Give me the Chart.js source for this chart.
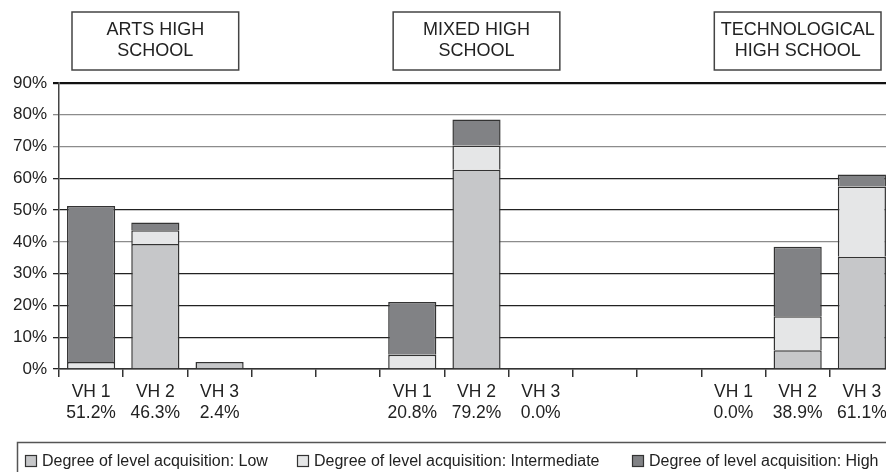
<!DOCTYPE html>
<html>
<head>
<meta charset="utf-8">
<script src="https://cdn.jsdelivr.net/npm/chart.js@4"></script>
<style>
  html, body { margin: 0; padding: 0; background: #fff; overflow: hidden; }
  #wrap { width: 900px; height: 472px; }
</style>
</head>
<body>
<div id="wrap"><canvas id="myChart" width="900" height="472"></canvas></div>
<script>
// Données
var schoolTitles = [['ARTS HIGH', 'SCHOOL'], ['MIXED HIGH', 'SCHOOL'], ['TECHNOLOGICAL', 'HIGH SCHOOL']];
var categories = ['VH 1', 'VH 2', 'VH 3', '', '', 'VH 1', 'VH 2', 'VH 3', '', '', 'VH 1', 'VH 2', 'VH 3'];
var shares = ['51.2%', '46.3%', '2.4%', '', '', '20.8%', '79.2%', '0.0%', '', '', '0.0%', '38.9%', '61.1%'];
var lowValues = [0, 39.3, 2.2, null, null, 0, 62.7, 0, null, null, 0, 5.9, 35.3];
var intermediateValues = [2.2, 4.4, 0, null, null, 4.5, 7.6, 0, null, null, 0, 10.7, 22.1];
var highValues = [49.1, 2.4, 0, null, null, 16.6, 8.2, 0, null, null, 0, 21.9, 3.8];
var yTicks = [0, 10, 20, 30, 40, 50, 60, 70, 80, 90];

var FONT = '"Liberation Sans", Arial, sans-serif';
var TEXT = '#222';

var labels = categories.map(function(c, i) { return c ? [c, shares[i]] : ''; });

function gridColor(v) {
  if (v === 90) return '#111';
  if (v === 80 || v === 70 || v === 40) return '#8c8c8c';
  return '#222';
}

/* plugin : cadres des titres + légende encadrée */
var decorPlugin = {
  id: 'decor',
  afterDraw: function(chart) {
    var ctx = chart.ctx;
    var x = chart.scales.x;
    var half = (x.getPixelForValue(1) - x.getPixelForValue(0)) / 2;
    ctx.save();
    ctx.font = '18px ' + FONT;
    ctx.fillStyle = TEXT;
    ctx.textAlign = 'center';
    ctx.textBaseline = 'middle';
    schoolTitles.forEach(function(t, g) {
      var xa = x.getPixelForValue(g * 5) - half + 13;
      var xb = x.getPixelForValue(g * 5 + 2) + half - 13;
      ctx.strokeStyle = '#444';
      ctx.lineWidth = 1.5;
      ctx.strokeRect(xa, 12, xb - xa, 58);
      ctx.fillText(t[0], (xa + xb) / 2, 30);
      ctx.fillText(t[1], (xa + xb) / 2, 51.5);
    });

    // légende
    ctx.strokeStyle = '#555';
    ctx.lineWidth = 1.5;
    ctx.strokeRect(17.5, 442.5, 900, 60);
    var itemX = [25, 297, 632];
    ctx.font = '16px ' + FONT;
    ctx.textAlign = 'left';
    chart.data.datasets.forEach(function(ds, i) {
      ctx.fillStyle = ds.backgroundColor;
      ctx.fillRect(itemX[i], 455, 12, 12);
      ctx.strokeStyle = '#333';
      ctx.lineWidth = 1.2;
      ctx.strokeRect(itemX[i] + 0.5, 455.5, 11, 11);
      ctx.fillStyle = TEXT;
      ctx.fillText(ds.label, itemX[i] + 17, 462);
    });
    ctx.restore();
  }
};

var ctx = document.getElementById('myChart').getContext('2d');
var chart = new Chart(ctx, {
  type: 'bar',
  data: {
    labels: labels,
    datasets: [
      {
        label: 'Degree of level acquisition: Low',
        data: lowValues,
        backgroundColor: '#c6c7c9',
        borderColor: '#333',
        borderWidth: 1.5
      },
      {
        label: 'Degree of level acquisition: Intermediate',
        data: intermediateValues,
        backgroundColor: '#e5e6e7',
        borderColor: '#333',
        borderWidth: 1.5
      },
      {
        label: 'Degree of level acquisition: High',
        data: highValues,
        backgroundColor: '#818285',
        borderColor: '#333',
        borderWidth: 1.5
      }
    ]
  },
  options: {
    responsive: false,
    devicePixelRatio: 1,
    animation: false,
    barPercentage: 0.75,
    categoryPercentage: 1,
    layout: { padding: { top: 83, right: 6, left: 0, bottom: 0 } },
    plugins: {
      legend: { display: false },
      tooltip: { enabled: false }
    },
    scales: {
      x: {
        stacked: true,
        afterFit: function(s) { s.height = 103; },
        grid: {
          offset: true,
          drawOnChartArea: false,
          tickLength: 8,
          color: '#333',
          lineWidth: 1.5
        },
        border: { display: true, color: '#333', width: 1.5 },
        ticks: {
          color: TEXT,
          padding: 5,
          maxRotation: 0,
          autoSkip: false,
          font: { family: FONT, size: 17.5, lineHeight: 1.2 }
        }
      },
      y: {
        stacked: true,
        min: 0,
        max: 90,
        afterFit: function(s) { s.width = 59; },
        afterBuildTicks: function(s) {
          s.ticks = yTicks.map(function(v) { return { value: v }; });
        },
        grid: {
          tickLength: 6,
          color: function(c) { return gridColor(c.tick.value); },
          lineWidth: function(c) { return c.tick.value === 90 ? 2.2 : 1.3; }
        },
        border: { display: true, color: '#444', width: 1.5 },
        ticks: {
          color: TEXT,
          padding: 6,
          font: { family: FONT, size: 17 },
          callback: function(v) { return v + '%'; }
        }
      }
    }
  },
  plugins: [decorPlugin]
});
</script>
</body>
</html>
